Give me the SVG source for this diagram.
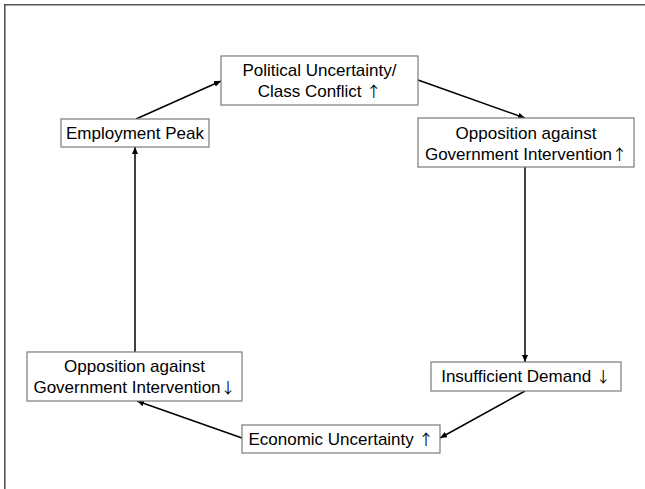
<svg xmlns="http://www.w3.org/2000/svg" width="645" height="489" viewBox="0 0 645 489">
<style>
.box{fill:#fff;stroke:#7a7a7a;stroke-width:1.2}
.lbl{font-family:"Liberation Sans",Arial,sans-serif;font-size:17px;fill:#000;text-anchor:middle}
.ar{font-family:"Noto Sans CJK SC","DejaVu Sans",sans-serif;font-size:15px}
.con{stroke:#000;stroke-width:1.5;fill:none;marker-end:url(#ah)}
.frame{stroke:#555;stroke-width:1.6;fill:none}
</style>
<defs>
<marker id="ah" markerUnits="userSpaceOnUse" markerWidth="7" markerHeight="6" refX="7" refY="3" orient="auto">
<path d="M0,0 L7,3 L0,6 z" fill="#000"/>
</marker>
</defs>
<rect width="645" height="489" fill="#fff"/>
<path class="frame" d="M4.8,489 V4.8 H645"/>
<g id="connectors">
<line class="con" x1="136" y1="119" x2="221" y2="81"/>
<line class="con" x1="418" y1="80" x2="525" y2="118"/>
<line class="con" x1="525" y1="167" x2="525" y2="362"/>
<line class="con" x1="525" y1="391" x2="440" y2="438"/>
<line class="con" x1="242" y1="438" x2="137" y2="401"/>
<line class="con" x1="135" y1="352" x2="135" y2="147"/>
</g>
<g id="political">
<rect class="box" x="221" y="56" width="197" height="49"/>
<text class="lbl" x="319.5" y="76">Political Uncertainty/</text>
<text class="lbl" x="319.5" y="97">Class Conflict <tspan class="ar">↑</tspan></text>
</g>
<g id="opposition-up">
<rect class="box" x="418" y="118" width="216" height="49"/>
<text class="lbl" x="526" y="139">Opposition against</text>
<text class="lbl" x="526" y="160">Government Intervention<tspan class="ar">↑</tspan></text>
</g>
<g id="insufficient">
<rect class="box" x="431" y="362" width="190" height="29"/>
<text class="lbl" x="526" y="382">Insufficient Demand <tspan class="ar">↓</tspan></text>
</g>
<g id="economic">
<rect class="box" x="242" y="425" width="198" height="28"/>
<text class="lbl" x="341" y="445">Economic Uncertainty <tspan class="ar">↑</tspan></text>
</g>
<g id="opposition-down">
<rect class="box" x="27" y="352" width="215" height="49"/>
<text class="lbl" x="134.5" y="372">Opposition against</text>
<text class="lbl" x="134.5" y="393">Government Intervention<tspan class="ar">↓</tspan></text>
</g>
<g id="employment">
<rect class="box" x="61" y="119" width="148" height="28"/>
<text class="lbl" x="135" y="139">Employment Peak</text>
</g>
</svg>
